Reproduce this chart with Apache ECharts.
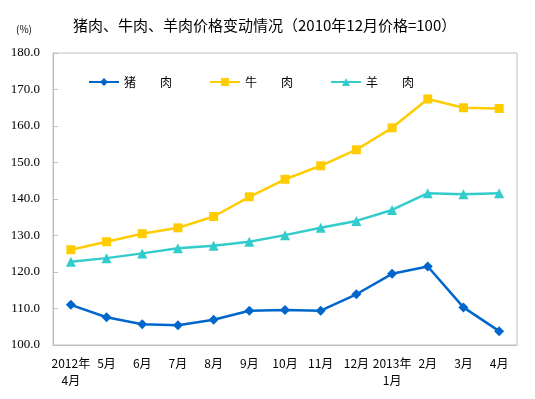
<!DOCTYPE html>
<html>
<head>
<meta charset="utf-8">
<script src="https://cdn.jsdelivr.net/npm/echarts@6/dist/echarts.min.js"></script>
<style>
  html, body { margin: 0; padding: 0; background: #fff; }
  #main { width: 535px; height: 399px; }
</style>
</head>
<body>
<div id="main"></div>
<script>
// 月份
var months = ['2012年\n4月', '5月', '6月', '7月', '8月', '9月', '10月', '11月', '12月', '2013年\n1月', '2月', '3月', '4月'];
// 猪肉
var pork = [111.0, 107.6, 105.7, 105.4, 106.9, 109.4, 109.6, 109.4, 113.9, 119.5, 121.5, 110.3, 103.8];
// 牛肉
var beef = [126.1, 128.3, 130.5, 132.1, 135.2, 140.6, 145.4, 149.1, 153.5, 159.5, 167.4, 165.0, 164.8];
// 羊肉
var lamb = [122.8, 123.8, 125.1, 126.5, 127.2, 128.3, 130.1, 132.1, 134.0, 137.0, 141.6, 141.3, 141.6];
var seriesNames = ['猪\u3000\u3000肉', '牛\u3000\u3000肉', '羊\u3000\u3000肉'];

var chart = echarts.init(document.getElementById('main'));
var cjk = '"Noto Sans CJK SC", sans-serif';

chart.setOption({
  animation: false,
  title: [{
    text: '猪肉、牛肉、羊肉价格变动情况（2010年12月价格=100）',
    left: 68,
    top: 13,
    textStyle: { fontFamily: cjk, fontSize: 15, fontWeight: 'normal', color: '#000' }
  }, {
    text: '(%)',
    left: 11,
    top: 19,
    textStyle: { fontFamily: cjk, fontSize: 10, fontWeight: 'normal', color: '#000' }
  }],
  legend: {
    left: 88,
    top: 76,
    padding: 0,
    itemWidth: 30,
    itemHeight: 10,
    itemGap: 37,
    textStyle: { fontFamily: cjk, fontSize: 12, color: '#000' },
    data: seriesNames
  },
  grid: {
    left: 53, right: 18, top: 53, bottom: 54,
    show: true, borderColor: '#bfbfbf', borderWidth: 1
  },
  xAxis: {
    type: 'category',
    data: months,
    axisLine: { lineStyle: { color: '#bfbfbf' } },
    axisTick: { show: false },
    axisLabel: { interval: 0, fontFamily: cjk, fontSize: 12, color: '#000', margin: 10, lineHeight: 17 }
  },
  yAxis: {
    type: 'value',
    min: 100, max: 180, interval: 10,
    axisLine: { show: true, lineStyle: { color: '#bfbfbf' } },
    axisTick: { show: true, inside: true, length: 5, lineStyle: { color: '#bfbfbf' } },
    splitLine: { show: false },
    axisLabel: {
      fontFamily: '"Liberation Serif", serif', fontSize: 13, color: '#000', margin: 13,
      formatter: function (v) { return v.toFixed(1); }
    }
  },
  series: [{
    name: seriesNames[0], type: 'line', data: pork,
    symbol: 'diamond', symbolSize: 10,
    itemStyle: { color: '#0066cc' }, lineStyle: { width: 2.5, color: '#0066cc' }
  }, {
    name: seriesNames[1], type: 'line', data: beef,
    symbol: 'rect', symbolSize: 9,
    itemStyle: { color: '#ffcc00' }, lineStyle: { width: 2.5, color: '#ffcc00' }
  }, {
    name: seriesNames[2], type: 'line', data: lamb,
    symbol: 'triangle', symbolSize: 10,
    itemStyle: { color: '#33cccc' }, lineStyle: { width: 2.5, color: '#33cccc' }
  }]
});
</script>
</body>
</html>
